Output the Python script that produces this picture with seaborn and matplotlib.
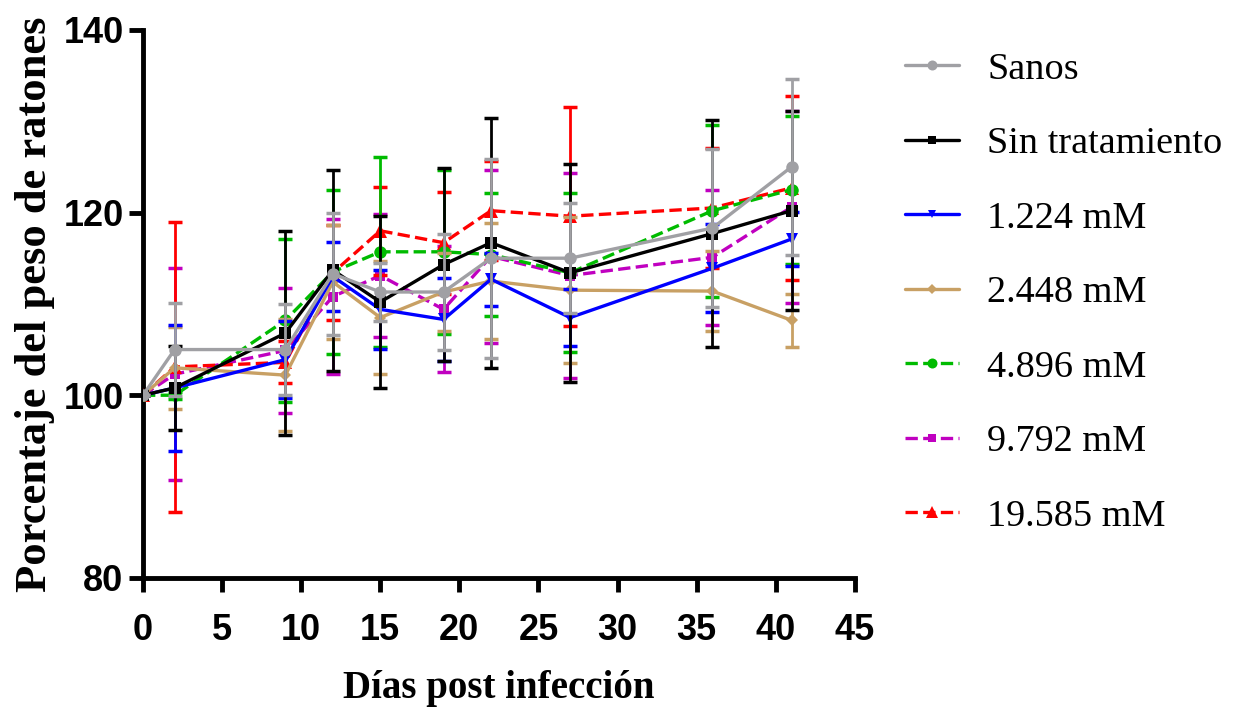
import numpy as np
import pandas as pd
import matplotlib
matplotlib.use("Agg")
import matplotlib.pyplot as plt
import seaborn as sns

# Data
days = [0, 2, 9, 12, 15, 19, 22, 27, 36, 41]

labels = ["Sanos", "Sin tratamiento", "1.224 mM", "2.448 mM",
          "4.896 mM", "9.792 mM", "19.585 mM"]

sanos_mean = [100, 105.0, 105.0, 113.3, 111.3, 111.3, 115.0, 115.0, 118.3, 125.0]
sanos_sd = [0, 5.1, 5.0, 6.7, 3.2, 6.3, 10.9, 6.0, 8.6, 9.6]

sin_mean = [100, 100.8, 106.8, 113.7, 110.2, 114.3, 116.7, 113.4, 117.7, 120.2]
sin_sd = [0, 4.6, 11.2, 11.0, 9.4, 10.6, 13.7, 11.9, 12.4, 10.9]

m1224_mean = [100, 100.8, 103.9, 113.0, 109.4, 108.3, 112.7, 108.5, 113.9, 117.1]
m1224_sd = [0, 6.9, 4.2, 3.8, 4.3, 4.5, 2.9, 3.1, 4.8, 3.0]

m2448_mean = [100, 103.0, 102.2, 112.4, 108.5, 111.3, 112.5, 111.5, 111.4, 108.2]
m2448_sd = [0, 4.5, 6.1, 6.2, 6.2, 4.3, 6.3, 8.0, 4.4, 2.9]

m4896_mean = [100, 100.0, 108.2, 113.5, 115.7, 115.7, 115.4, 113.4, 120.2, 122.5]
m4896_sd = [0, 0.4, 8.9, 9.0, 10.4, 9.0, 6.7, 8.7, 9.4, 8.1]

m9792_mean = [100, 102.3, 104.9, 110.8, 113.1, 109.4, 115.2, 113.1, 115.1, 120.6]
m9792_sd = [0, 11.6, 6.8, 8.5, 6.7, 6.9, 9.5, 11.2, 7.4, 10.5]

m19585_mean = [100, 103.1, 103.6, 113.4, 118.0, 116.7, 120.2, 119.6, 120.5, 122.7]
m19585_sd = [0, 15.9, 2.3, 5.2, 4.8, 5.6, 5.4, 12.0, 6.6, 10.1]

means = [sanos_mean, sin_mean, m1224_mean, m2448_mean, m4896_mean, m9792_mean, m19585_mean]
sds = [sanos_sd, sin_sd, m1224_sd, m2448_sd, m4896_sd, m9792_sd, m19585_sd]

colors = ["#A0A0A4", "#000000", "#0000FF", "#C8A064", "#00BB00", "#C000C0", "#FF0000"]
markers = ["o", "s", "v", "D", "o", "s", "^"]
msizes = [9, 8, 8, 6, 9, 7, 10]
styles = ["-", "-", "-", "-", "--", "--", "--"]
zorders = [9, 8, 7, 6, 5, 3, 4]

sns.set_style("ticks")
plt.rcParams.update({"text.color": "black", "axes.labelcolor": "black",
                     "xtick.color": "black", "ytick.color": "black",
                     "axes.edgecolor": "black"})

fig = plt.figure(figsize=(12.38, 7.10), dpi=100)
ax = fig.add_axes([0.1155, 0.186, 0.575, 0.772])

for lab, mu, sd, c, mk, ms, ls, z in zip(labels, means, sds, colors, markers,
                                          msizes, styles, zorders):
    df = pd.DataFrame({"dia": days, "peso": mu})
    ax.errorbar(days, mu, yerr=sd, fmt="none", ecolor=c, elinewidth=2,
                capsize=5, capthick=2.5, zorder=z)
    sns.lineplot(data=df, x="dia", y="peso", ax=ax, color=c, marker=mk,
                 markersize=ms, markeredgewidth=0, linestyle=ls,
                 linewidth=2.4, label=lab, zorder=z + 0.5, errorbar=None)

ax.set_xlim(0, 45)
ax.set_ylim(80, 140)
ax.set_xticks(range(0, 46, 5))
ax.set_yticks([80, 100, 120, 140])
sns.despine(ax=ax)
for s in ["left", "bottom"]:
    ax.spines[s].set_linewidth(3.5)
ax.tick_params(axis="both", length=10, width=3.5, labelsize=26)
ax.tick_params(axis="x", pad=15)
ax.tick_params(axis="y", pad=4)
for t in ax.get_xticklabels() + ax.get_yticklabels():
    t.set_fontfamily("Liberation Sans")
    t.set_fontweight("bold")

ax.set_xlabel("Días post infección", fontfamily="Liberation Serif",
              fontweight="bold", fontsize=28, labelpad=16)
ax.set_ylabel("Porcentaje del peso de ratones", fontfamily="Liberation Serif",
              fontweight="bold", fontsize=32, labelpad=6)

handles, labs = ax.get_legend_handles_labels()
ax.get_legend().remove()
fig.legend(handles, labs, loc="upper left", bbox_to_anchor=(0.7035, 0.975),
           frameon=False, prop={"family": "Liberation Serif", "size": 27.5},
           handlelength=1.4, handletextpad=0.75, labelspacing=1.04,
           markerscale=0.8)

fig.savefig("out.png", dpi=100)
